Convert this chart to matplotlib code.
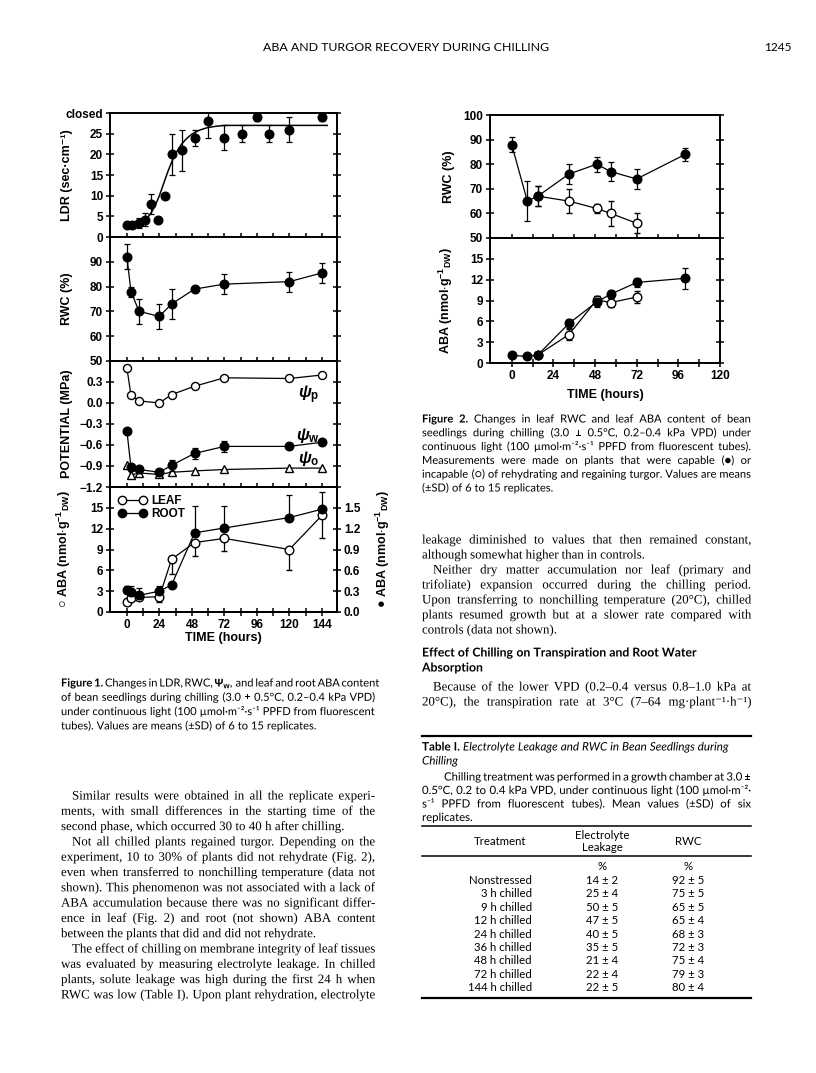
import matplotlib
matplotlib.use("Agg")
import matplotlib.pyplot as plt
import matplotlib.patheffects as pe
from matplotlib.lines import Line2D
import numpy as np

plt.rcParams['mathtext.fontset'] = 'custom'
plt.rcParams['mathtext.rm'] = 'Liberation Sans:bold'
plt.rcParams['mathtext.it'] = 'Liberation Sans:italic:bold'
plt.rcParams['mathtext.bf'] = 'Liberation Sans:bold'
plt.rcParams['axes.unicode_minus'] = True

W, H = 816, 1073
FIGF = ['Liberation Sans', 'DejaVu Sans']
CAPF = 'Lato'
SERIF = 'Liberation Serif'

# ---------------- Figure 1 data ----------------
ldr_t = [0, 4, 9, 13, 18, 23, 28, 33, 41, 50, 60, 72, 85, 96, 105, 120, 144]
ldr_v = [3.0, 3.0, 3.4, 4.2, 8.0, 4.0, 10.0, 20.0, 21.0, 24.0, 28.0, 24.0, 25.0, 29.0, 25.0, 26.0, 29.0]
ldr_e = [0, 0, 1.2, 1.5, 2.5, 0, 0, 5, 5, 2, 4, 3, 2, 1, 2, 3, 1]
ldr_fit_t = [9, 12, 15, 18, 21, 24, 27, 30, 33, 36, 40, 44, 48, 54, 60, 66, 72, 148]
ldr_fit_v = [3.4, 3.8, 4.6, 5.9, 7.7, 10.0, 12.8, 15.6, 18.1, 20.2, 22.3, 23.8, 24.9, 25.9, 26.5, 26.8, 27.0, 27.0]

t1 = [0, 3, 9, 24, 33, 50, 72, 120, 144]
rwc1 = [92, 78, 70, 68, 73, 79, 81, 82, 85.5]
rwc1_e = [5, 2, 5, 5, 6, 1, 4, 4, 4]
psi_p = [0.50, 0.11, 0.03, 0.00, 0.12, 0.24, 0.36, 0.35, 0.40]
psi_w = [-0.40, -0.92, -0.95, -0.99, -0.89, -0.72, -0.62, -0.62, -0.56]
psi_w_e = [0, 0.05, 0.05, 0.02, 0.08, 0.08, 0.08, 0, 0]
psi_o = [-0.89, -1.03, -1.00, -1.02, -0.99, -0.97, -0.95, -0.93, -0.93]
aba_leaf = [1.4, 2.0, 2.1, 2.2, 7.6, 10.0, 10.6, 9.0, 13.9]
aba_leaf_e = [0.4, 0.3, 0.3, 0.7, 2.1, 2.0, 1.8, 3.0, 3.2]
aba_root = [0.31, 0.29, 0.24, 0.30, 0.39, 1.14, 1.21, 1.36, 1.48]
aba_root_e = [0.07, 0.08, 0.10, 0.08, 0.04, 0.39, 0.31, 0.33, 0.25]

# ---------------- Figure 2 data ----------------
t2_cap = [0, 9, 15, 33, 49, 57, 72, 100]
rwc_cap = [88, 65, 67, 76, 80, 77, 74, 84]
rwc_cap_e = [3, 8, 4, 4, 3, 4, 4, 2.5]
t2_inc = [15, 33, 49, 57, 72]
rwc_inc = [67, 65, 62, 60, 56]
rwc_inc_e = [4, 5, 2, 5, 4]
aba_cap = [1.1, 0.95, 1.15, 5.7, 8.8, 9.9, 11.6, 12.2]
aba_cap_e = [0.2, 0.2, 0.3, 0.6, 0.8, 0.6, 0.6, 1.5]
aba_inc = [1.15, 4.1, 9.1, 8.7, 9.5]
aba_inc_e = [0.3, 0.8, 0.5, 0.7, 0.9]

# ---------------- Table data ----------------
treatments = ['Nonstressed', '3 h chilled', '9 h chilled', '12 h chilled', '24 h chilled',
              '36 h chilled', '48 h chilled', '72 h chilled', '144 h chilled']
leak_m = [14, 25, 50, 47, 40, 35, 21, 22, 22]
leak_s = [2, 4, 5, 5, 5, 5, 4, 4, 5]
rwct_m = [92, 75, 65, 65, 68, 72, 75, 79, 80]
rwct_s = [5, 5, 5, 4, 3, 3, 4, 3, 4]

fig = plt.figure(figsize=(W / 100, H / 100), dpi=100)
fig.patch.set_facecolor('white')
renderer = fig.canvas.get_renderer()


def rect(x0, y0, x1, y1):
    return [x0 / W, 1 - y1 / H, (x1 - x0) / W, (y1 - y0) / H]


def style_ax(ax, xlim, xticks, show_xlabels, yticks, ylabels, right=True):
    ax.set_xlim(*xlim)
    ax.set_xticks(xticks)
    for s in ax.spines.values():
        s.set_linewidth(1.4)
    ax.tick_params(axis='both', direction='inout', length=6, width=1.1,
                   labelsize=8.5, pad=2)
    ax.tick_params(axis='y', right=right)
    ax.set_yticks(yticks)
    ax.set_yticklabels(ylabels, family=FIGF, weight='bold')
    if show_xlabels:
        ax.set_xticklabels([str(v) if v % 24 == 0 else '' for v in xticks],
                           family=FIGF, weight='bold')
    else:
        ax.set_xticklabels([])


xt1 = list(range(0, 145, 12))
xl1 = (-12.5, 155.2)
mk = dict(color='black', ms=5.8, lw=0.9)
eb = dict(capsize=2, elinewidth=0.9, capthick=0.9)

# LDR
ax1 = fig.add_axes(rect(110, 113, 337, 237))
ax1.errorbar(ldr_t, ldr_v, yerr=ldr_e, fmt='o', mfc='black', mec='black', ecolor='black', ms=6.2, **eb)
ax1.plot(ldr_fit_t, ldr_fit_v, color='black', lw=1.1)
ax1.set_ylim(0, 30)
style_ax(ax1, xl1, xt1, False, [0, 5, 10, 15, 20, 25, 30],
         ['0', '5', '10', '15', '20', '25', 'closed'])
ax1.tick_params(axis='x', top=False)
ax1.set_ylabel('LDR (sec·cm⁻¹)', family=FIGF, weight='bold', fontsize=9)
ax1.yaxis.set_label_coords(-0.165, 0.5)

# RWC
ax2 = fig.add_axes(rect(110, 237, 337, 361))
ax2.errorbar(t1, rwc1, yerr=rwc1_e, fmt='-o', mfc='black', mec='black', color='black', ms=6.2, lw=0.9, **eb)
ax2.set_ylim(50, 100)
style_ax(ax2, xl1, xt1, False, [50, 60, 70, 80, 90], ['50', '60', '70', '80', '90'])
ax2.set_ylabel('RWC (%)', family=FIGF, weight='bold', fontsize=9)
ax2.yaxis.set_label_coords(-0.165, 0.5)

# Potential
ax3 = fig.add_axes(rect(110, 361, 337, 487))
ax3.plot(t1, psi_p, '-o', mfc='white', mec='black', mew=1.0, **mk)
ax3.plot(t1, psi_o, '-^', mfc='white', mec='black', mew=1.0, **mk)
ax3.errorbar(t1, psi_w, yerr=psi_w_e, fmt='-o', mfc='black', mec='black', color='black', ms=6.2, lw=0.9, **eb)
ax3.set_ylim(-1.2, 0.6)
pt = [-1.2, -0.9, -0.6, -0.3, 0.0, 0.3]
style_ax(ax3, xl1, xt1, False, pt, ['\u22121.2', '\u22120.9', '\u22120.6', '\u22120.3', '0.0', '0.3'])
ax3.set_ylabel('POTENTIAL (MPa)', family=FIGF, weight='bold', fontsize=9)
ax3.yaxis.set_label_coords(-0.165, 0.5)
ax3.text(134, 0.12, r'$\psi_{\rm p}$', fontsize=12, ha='center', va='center')
ax3.text(134, -0.47, r'$\psi_{\rm w}$', fontsize=12, ha='center', va='center')
ax3.text(134, -0.80, r'$\psi_{\rm o}$', fontsize=12, ha='center', va='center')

# ABA
ax4 = fig.add_axes(rect(110, 487, 337, 612))
ax4.errorbar(t1, aba_leaf, yerr=[aba_leaf_e, [0] * len(aba_leaf_e)], fmt='-o', mfc='white', mec='black',
             mew=1.0, color='black', ms=6.2, lw=0.9, zorder=3, **eb)
ax4.set_ylim(0, 18)
style_ax(ax4, xl1, xt1, True, [0, 3, 6, 9, 12, 15], ['0', '3', '6', '9', '12', '15'], right=False)
ax4.set_xlabel('TIME (hours)', family=FIGF, weight='bold', fontsize=9, labelpad=1)
ax4.set_ylabel('○ ABA (nmol$\\cdot$g$^{-1}$$_{\\rm DW}$)', family=FIGF, weight='bold', fontsize=9)
ax4.yaxis.set_label_coords(-0.165, 0.5)
ax4r = ax4.twinx()
ax4r.errorbar(t1, aba_root, yerr=[[0] * len(aba_root_e), aba_root_e], fmt='-o', mfc='black', mec='black',
              color='black', ms=6.2, lw=0.9, **eb)
ax4r.set_ylim(0, 1.8)
ax4r.set_yticks([0.0, 0.3, 0.6, 0.9, 1.2, 1.5])
ax4r.set_yticklabels(['0.0', '0.3', '0.6', '0.9', '1.2', '1.5'], family=FIGF, weight='bold')
ax4r.tick_params(axis='y', direction='inout', length=6, width=1.1, labelsize=8.5, pad=2)
for s in ax4r.spines.values():
    s.set_linewidth(1.4)
ax4r.set_ylabel('● ABA (nmol$\\cdot$g$^{-1}$$_{\\rm DW}$)', family=FIGF, weight='bold', fontsize=9,
                rotation=90)
ax4r.yaxis.set_label_coords(1.16, 0.5)
hl = [Line2D([], [], marker='o', color='black', mfc='white', mec='black', ms=6, lw=0.9),
      Line2D([], [], marker='o', color='black', mfc='black', mec='black', ms=6, lw=0.9)]
leg = ax4r.legend(hl, ['LEAF', 'ROOT'], numpoints=2, handlelength=2.4, frameon=False, loc='upper left',
                  bbox_to_anchor=(0.0, 1.0), labelspacing=0.05, handletextpad=0.4, borderaxespad=0.3,
                  prop={'family': FIGF, 'weight': 'bold', 'size': 8.5})

# ---------------- Figure 2 ----------------
xt2 = list(range(0, 121, 12))
xl2 = (-12.5, 120)
b1 = fig.add_axes(rect(490, 115, 720, 238))
b1.errorbar(t2_inc, rwc_inc, yerr=rwc_inc_e, fmt='-o', mfc='white', mec='black', mew=1.0, color='black',
            ms=6.2, lw=0.9, **eb)
b1.errorbar(t2_cap, rwc_cap, yerr=rwc_cap_e, fmt='-o', mfc='black', mec='black', color='black',
            ms=6.2, lw=0.9, **eb)
b1.set_ylim(50, 100)
style_ax(b1, xl2, xt2, False, [50, 60, 70, 80, 90, 100], ['50', '60', '70', '80', '90', '100'])
b1.tick_params(axis='x', top=False)
b1.set_ylabel('RWC (%)', family=FIGF, weight='bold', fontsize=9)
b1.yaxis.set_label_coords(-0.152, 0.5)

b2 = fig.add_axes(rect(490, 238, 720, 363))
b2.errorbar(t2_inc, aba_inc, yerr=aba_inc_e, fmt='-o', mfc='white', mec='black', mew=1.0, color='black',
            ms=6.2, lw=0.9, **eb)
b2.errorbar(t2_cap, aba_cap, yerr=aba_cap_e, fmt='-o', mfc='black', mec='black', color='black',
            ms=6.2, lw=0.9, **eb)
b2.set_ylim(0, 18)
style_ax(b2, xl2, xt2, True, [0, 3, 6, 9, 12, 15], ['0', '3', '6', '9', '12', '15'])
b2.set_xlabel('TIME (hours)', family=FIGF, weight='bold', fontsize=9, labelpad=5)
b2.set_ylabel('ABA (nmol$\\cdot$g$^{-1}$$_{\\rm DW}$)', family=FIGF, weight='bold', fontsize=9)
b2.yaxis.set_label_coords(-0.152, 0.5)


# ---------------- text helpers ----------------
PE = [pe.Normal()]


def fam_for(tok, base):
    if all(ord(c) < 0x180 for c in tok):
        return base
    return [base, 'DejaVu Sans']


def tline(s, x0, x1, yc, size, family, justify=True, off=3.5):
    objs = []
    for tok in s.split(' '):
        kw = {}
        if tok.startswith('*'):
            tok = tok[1:]
            kw['weight'] = 'bold'
        if tok.startswith('_'):
            tok = tok[1:]
            kw['style'] = 'italic'
        t = fig.text(x0 / W, 1 - (yc + off) / H, tok, fontsize=size, family=fam_for(tok, family),
                     va='baseline', ha='left', path_effects=PE, **kw)
        objs.append(t)
    widths = [t.get_window_extent(renderer).width for t in objs]
    space = size * 100 / 72 * 0.26
    if justify and len(objs) > 1:
        gap = max((x1 - x0 - sum(widths)) / (len(objs) - 1), space * 0.6)
    else:
        gap = space
    x = x0
    for t, w in zip(objs, widths):
        t.set_x(x / W)
        x += w + gap


def para(lines, x0, x1, y0, dy, size, family, indent=11, first_indent=True, last_left=True):
    for i, ln in enumerate(lines):
        xs = x0 + (indent if (i == 0 and first_indent) else 0)
        just = not (last_left and i == len(lines) - 1)
        tline(ln, xs, x1, y0 + i * dy, size, family, justify=just)


# header
fig.text(406 / W, 1 - 51 / H, 'ABA AND TURGOR RECOVERY DURING CHILLING', fontsize=8.9, family=CAPF,
         ha='center', va='baseline')
fig.text(792 / W, 1 - 51 / H, '1245', fontsize=8.6, family=CAPF, ha='right', va='baseline')

# Figure 1 caption
cap1 = ['*Figure *1. Changes in LDR, RWC, $\\Psi_{\\mathrm{w}}$, and leaf and root ABA content',
        'of bean seedlings during chilling (3.0 ± 0.5°C, 0.2–0.4 kPa VPD)',
        'under continuous light (100 µmol·m⁻²·s⁻¹ PPFD from fluorescent',
        'tubes). Values are means (±SD) of 6 to 15 replicates.']
para(cap1, 61, 375, 683, 14.3, 8.0, CAPF, indent=0, first_indent=False)

# Figure 2 caption
cap2 = ['*Figure *2. Changes in leaf RWC and leaf ABA content of bean',
        'seedlings during chilling (3.0 ± 0.5°C, 0.2–0.4 kPa VPD) under',
        'continuous light (100 µmol·m⁻²·s⁻¹ PPFD from fluorescent tubes).',
        'Measurements were made on plants that were capable (●) or',
        'incapable (○) of rehydrating and regaining turgor. Values are means',
        '(±SD) of 6 to 15 replicates.']
para(cap2, 422, 751, 419, 13.8, 8.0, CAPF, indent=0, first_indent=False)

# left column body
body_l1 = ['Similar results were obtained in all the replicate experi-',
           'ments, with small differences in the starting time of the',
           'second phase, which occurred 30 to 40 h after chilling.']
body_l2 = ['Not all chilled plants regained turgor. Depending on the',
           'experiment, 10 to 30% of plants did not rehydrate (Fig. 2),',
           'even when transferred to nonchilling temperature (data not',
           'shown). This phenomenon was not associated with a lack of',
           'ABA accumulation because there was no significant differ-',
           'ence in leaf (Fig. 2) and root (not shown) ABA content',
           'between the plants that did and did not rehydrate.']
body_l3 = ['The effect of chilling on membrane integrity of leaf tissues',
           'was evaluated by measuring electrolyte leakage. In chilled',
           'plants, solute leakage was high during the first 24 h when',
           'RWC was low (Table I). Upon plant rehydration, electrolyte']
dy = 15.3
BS = 9.3
para(body_l1, 61, 375, 796, dy, BS, SERIF)
para(body_l2, 61, 375, 796 + 3 * dy, dy, BS, SERIF)
para(body_l3, 61, 375, 796 + 10 * dy, dy, BS, SERIF, last_left=False)

# right column body
para(['leakage diminished to values that then remained constant,',
      'although somewhat higher than in controls.'], 422, 751, 540, 15, BS, SERIF, first_indent=False)
para(['Neither dry matter accumulation nor leaf (primary and',
      'trifoliate) expansion occurred during the chilling period.',
      'Upon transferring to nonchilling temperature (20°C), chilled',
      'plants resumed growth but at a slower rate compared with',
      'controls (data not shown).'], 422, 751, 570, 15, BS, SERIF)
tline('*Effect *of *Chilling *on *Transpiration *and *Root *Water', 422, 751, 653, 8.8, CAPF, justify=False)
tline('*Absorption', 422, 751, 668, 8.8, CAPF, justify=False)
para(['Because of the lower VPD (0.2–0.4 versus 0.8–1.0 kPa at',
      '20°C), the transpiration rate at 3°C (7–64 mg·plant⁻¹·h⁻¹)'], 422, 751, 687, 15, BS, SERIF,
     last_left=False)


# table
def hrule(y, lw):
    fig.add_artist(Line2D([422 / W, 751 / W], [1 - y / H, 1 - y / H], color='black', lw=lw))


hrule(736, 1.6)
tline('*Table *I. _Electrolyte _Leakage _and _RWC _in _Bean _Seedlings _during', 422, 751, 747, 8.4, CAPF,
      justify=False)
tline('_Chilling', 422, 751, 761, 8.4, CAPF, justify=False)
para(['Chilling treatment was performed in a growth chamber at 3.0 ±',
      '0.5°C, 0.2 to 0.4 kPa VPD, under continuous light (100 µmol·m⁻²·',
      's⁻¹ PPFD from fluorescent tubes). Mean values (±SD) of six',
      'replicates.'], 422, 751, 777, 13.5, 8.2, CAPF, indent=22)
hrule(826, 1.1)
hrule(856, 1.1)
hrule(998, 1.6)
fs = 8.2
fig.text(500 / W, 1 - 845 / H, 'Treatment', fontsize=fs, family=CAPF, ha='center', va='baseline')
fig.text(602 / W, 1 - 839 / H, 'Electrolyte', fontsize=fs, family=CAPF, ha='center', va='baseline')
fig.text(602 / W, 1 - 851 / H, 'Leakage', fontsize=fs, family=CAPF, ha='center', va='baseline')
fig.text(688 / W, 1 - 845 / H, 'RWC', fontsize=fs, family=CAPF, ha='center', va='baseline')
fig.text(602 / W, 1 - 870 / H, '%', fontsize=fs, family=CAPF, ha='center', va='baseline')
fig.text(688 / W, 1 - 870 / H, '%', fontsize=fs, family=CAPF, ha='center', va='baseline')
for i, name in enumerate(treatments):
    yb = 884 + i * 13.4
    fig.text(532 / W, 1 - yb / H, name, fontsize=fs, family=CAPF, ha='right', va='baseline')
    fig.text(602 / W, 1 - yb / H, f'{leak_m[i]} ± {leak_s[i]}', fontsize=fs, family=CAPF,
             ha='center', va='baseline')
    fig.text(688 / W, 1 - yb / H, f'{rwct_m[i]} ± {rwct_s[i]}', fontsize=fs, family=CAPF,
             ha='center', va='baseline')

fig.savefig('out.png', dpi=100, facecolor='white')
